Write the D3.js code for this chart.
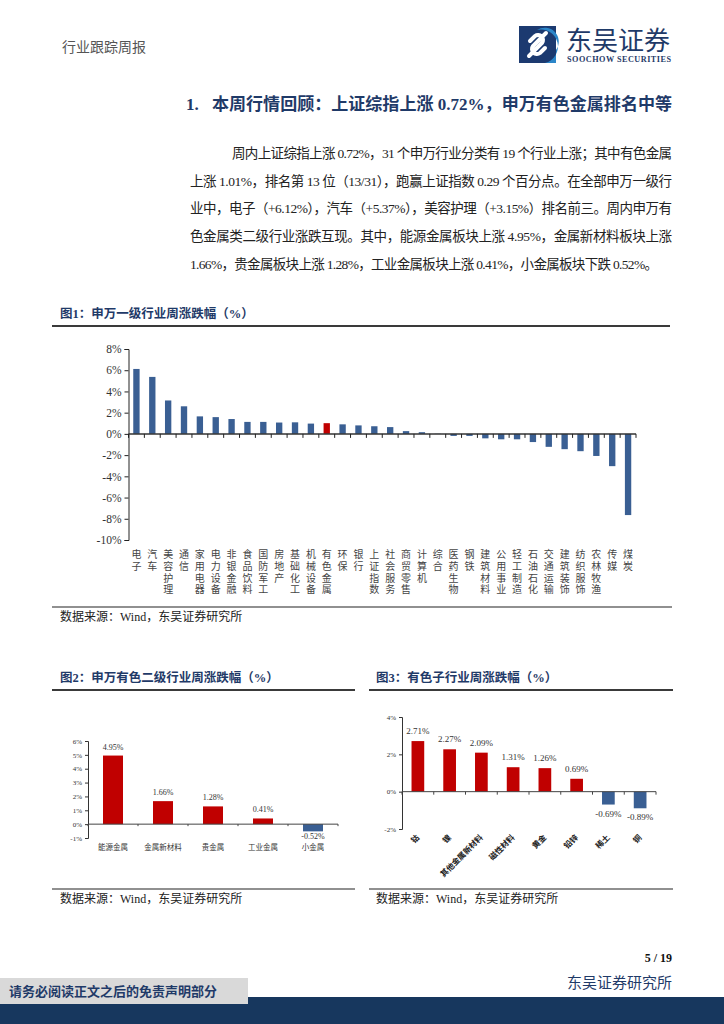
<!DOCTYPE html>
<html>
<head>
<meta charset="utf-8">
<script src="https://cdn.jsdelivr.net/npm/d3@7"></script>
<style>
  body { margin: 0; background: #fff; }
  svg { display: block; }
  text { font-family: "Liberation Serif", "Noto Sans CJK SC", serif; }
</style>
</head>
<body>
<div id="page"></div>
<script>
// chart 1: SW level-1 industries, weekly change (%)
var industries = ["电子","汽车","美容护理","通信","家用电器","电力设备","非银金融","食品饮料","国防军工","房地产",
  "基础化工","机械设备","有色金属","环保","银行","上证指数","社会服务","商贸零售","计算机","综合",
  "医药生物","钢铁","建筑材料","公用事业","轻工制造","石油石化","交通运输","建筑装饰","纺织服饰","农林牧渔","传媒","煤炭"];
var industryChange = [6.12,5.37,3.15,2.6,1.65,1.58,1.4,1.13,1.13,1.07,
  1.09,0.97,1.01,0.9,0.8,0.72,0.64,0.26,0.16,0.02,
  -0.19,-0.19,-0.42,-0.51,-0.51,-0.77,-1.22,-1.44,-1.63,-2.08,-3.04,-7.65];
var highlight1 = "有色金属";
var ticks1 = [-10,-8,-6,-4,-2,0,2,4,6,8];

// chart 2: non-ferrous level-2
var subSectors = ["能源金属","金属新材料","贵金属","工业金属","小金属"];
var subChange = [4.95,1.66,1.28,0.41,-0.52];
var ticks2 = [-1,0,1,2,3,4,5,6];

// chart 3: non-ferrous sub-industries
var subIndustries = ["钴","镍","其他金属新材料","磁性材料","黄金","铅锌","稀土","铜"];
var subIndChange = [2.71,2.27,2.09,1.31,1.26,0.69,-0.69,-0.89];
var ticks3 = [-2,0,2,4];

var paraLines = [
  "周内上证综指上涨 0.72%，31 个申万行业分类有 19 个行业上涨；其中有色金属",
  "上涨 1.01%，排名第 13 位（13/31），跑赢上证指数 0.29 个百分点。在全部申万一级行",
  "业中，电子（+6.12%），汽车（+5.37%），美容护理（+3.15%）排名前三。周内申万有",
  "色金属类二级行业涨跌互现。其中，能源金属板块上涨 4.95%，金属新材料板块上涨",
  "1.66%，贵金属板块上涨 1.28%，工业金属板块上涨 0.41%，小金属板块下跌 0.52%。"
];

var navy = "#1F3A68", blue = "#3A5F93", red = "#C00000", ink = "#222";

var svg = d3.select("#page").append("svg").attr("width", 724).attr("height", 1024);

// ---------- header ----------
svg.append("text").attr("x", 62).attr("y", 52).attr("font-size", 14).attr("fill", "#555").text("行业跟踪周报");

var logo = svg.append("g");
logo.append("rect").attr("x", 519).attr("y", 26).attr("width", 37).attr("height", 37).attr("fill", "#1C3A70");
logo.append("path").attr("d", "M537,30 A14,14 0 0 1 556,50 L556,63 L545,63 A14,14 0 0 0 537,30 Z").attr("fill", "#2B86C9");
logo.append("path").attr("d", "M546,33 L533,46 A5,5 0 0 0 540,53 L545,48 M529,56 L542,43 A5,5 0 0 0 535,36 L530,41")
  .attr("fill", "none").attr("stroke", "#fff").attr("stroke-width", 4).attr("stroke-linecap", "round");
logo.append("text").attr("x", 566).attr("y", 50).attr("font-size", 26).attr("fill", navy)
  .attr("font-family", "Noto Sans CJK SC").text("东吴证券");
logo.append("text").attr("x", 567).attr("y", 62).attr("font-size", 8.2).attr("font-weight", "bold").attr("fill", navy)
  .attr("font-family", "DejaVu Sans Condensed, Liberation Sans Narrow, sans-serif").attr("textLength", 104).text("SOOCHOW SECURITIES");

// ---------- section title & paragraph ----------
svg.append("text").attr("x", 186).attr("y", 110).attr("font-size", 17).attr("font-weight", "bold").attr("fill", navy).text("1.");
svg.append("text").attr("x", 212).attr("y", 110).attr("font-size", 17).attr("font-weight", "bold").attr("fill", navy)
  .attr("textLength", 460).attr("lengthAdjust", "spacingAndGlyphs")
  .text("本周行情回顾：上证综指上涨 0.72%，申万有色金属排名中等");

var paraY = [158, 186, 213, 241, 269];
svg.selectAll("text.para").data(paraLines).enter().append("text").attr("class", "para")
  .attr("x", function(d, i) { return i === 0 ? 232 : 190; })
  .attr("y", function(d, i) { return paraY[i]; })
  .attr("font-size", 13.5).attr("fill", ink)
  .attr("textLength", function(d, i) { return i === 0 ? 440 : (i === 4 ? 468 : 482); })
  .attr("lengthAdjust", "spacing")
  .text(function(d) { return d; });

// helper for figure headers
function figTitle(x, y, x1, x2, label) {
  svg.append("text").attr("x", x).attr("y", y).attr("font-size", 12.5).attr("font-weight", "bold").attr("fill", navy).text(label);
  svg.append("line").attr("x1", x1).attr("x2", x2).attr("y1", y + 8).attr("y2", y + 8).attr("stroke", "#3a3a3a").attr("stroke-width", 2);
}
function source(x, y, x1, x2) {
  svg.append("line").attr("x1", x1).attr("x2", x2).attr("y1", y - 12).attr("y2", y - 12).attr("stroke", "#222").attr("stroke-width", 1.2);
  svg.append("text").attr("x", x).attr("y", y + 2).attr("font-size", 12).attr("fill", ink).text("数据来源：Wind，东吴证券研究所");
}

// ---------- figure 1 ----------
figTitle(60, 318, 52, 670, "图1：申万一级行业周涨跌幅（%）");

var x1 = d3.scaleBand().domain(industries).range([128.5, 636]).paddingInner(0.6).paddingOuter(0.3);
var y1 = d3.scaleLinear().domain([-10, 8]).range([540, 349]);

svg.append("g").attr("transform", "translate(128.5,0)")
  .call(d3.axisLeft(y1).tickValues(ticks1).tickSize(4).tickFormat(function(d) { return d + "%"; }))
  .call(function(g) {
    g.selectAll("text").attr("font-size", 11.5).attr("fill", "#333").attr("font-family", "Liberation Serif");
    g.selectAll("line,path").attr("stroke", "#222");
  });

svg.selectAll("rect.b1").data(industries).enter().append("rect").attr("class", "b1")
  .attr("x", function(d) { return x1(d); })
  .attr("width", x1.bandwidth())
  .attr("y", function(d, i) { return y1(Math.max(0, industryChange[i])); })
  .attr("height", function(d, i) { return Math.abs(y1(industryChange[i]) - y1(0)); })
  .attr("fill", function(d) { return d === highlight1 ? red : blue; });

svg.append("line").attr("x1", 128.5).attr("x2", 636).attr("y1", y1(0)).attr("y2", y1(0)).attr("stroke", "#333").attr("stroke-width", 1.5);
svg.selectAll("line.t1").data(d3.range(industries.length + 1)).enter().append("line").attr("class", "t1")
  .attr("x1", function(k) { return 128.5 + k * x1.step(); })
  .attr("x2", function(k) { return 128.5 + k * x1.step(); })
  .attr("y1", y1(0)).attr("y2", y1(0) + 4).attr("stroke", "#222");

svg.selectAll("text.c1").data(industries).enter().append("text").attr("class", "c1")
  .attr("font-size", 10).attr("fill", "#444").attr("text-anchor", "middle")
  .attr("font-family", "Noto Sans CJK SC")
  .each(function(d) {
    var t = d3.select(this), cx = x1(d) + x1.bandwidth() / 2;
    d.split("").forEach(function(ch, j) {
      t.append("tspan").attr("x", cx).attr("y", 558 + j * 11.8).text(ch);
    });
  });

source(60, 619, 52, 672);

// ---------- figure 2 ----------
figTitle(60, 682, 52, 355, "图2：申万有色二级行业周涨跌幅（%）");

var x2 = d3.scaleBand().domain(subSectors).range([88, 338]).paddingInner(0.6).paddingOuter(0.3);
var y2 = d3.scaleLinear().domain([-1, 6]).range([838, 741]);

svg.append("g").attr("transform", "translate(88,0)")
  .call(d3.axisLeft(y2).tickValues(ticks2).tickSize(3).tickPadding(3).tickFormat(function(d) { return d + "%"; }))
  .call(function(g) {
    g.selectAll("text").attr("font-size", 7).attr("fill", "#333");
    g.selectAll("line,path").attr("stroke", "#333");
  });

svg.selectAll("rect.b2").data(subSectors).enter().append("rect").attr("class", "b2")
  .attr("x", function(d) { return x2(d); }).attr("width", x2.bandwidth())
  .attr("y", function(d, i) { return y2(Math.max(0, subChange[i])); })
  .attr("height", function(d, i) { return Math.abs(y2(subChange[i]) - y2(0)); })
  .attr("fill", function(d, i) { return subChange[i] >= 0 ? red : blue; });

svg.append("line").attr("x1", 88).attr("x2", 338).attr("y1", y2(0)).attr("y2", y2(0)).attr("stroke", "#444").attr("stroke-width", 1);
svg.selectAll("line.t2").data(d3.range(subSectors.length + 1)).enter().append("line").attr("class", "t2")
  .attr("x1", function(k) { return 88 + k * x2.step(); }).attr("x2", function(k) { return 88 + k * x2.step(); })
  .attr("y1", y2(0)).attr("y2", y2(0) + 2).attr("stroke", "#444");

svg.selectAll("text.v2").data(subSectors).enter().append("text").attr("class", "v2")
  .attr("x", function(d) { return x2(d) + x2.bandwidth() / 2; })
  .attr("y", function(d, i) { return subChange[i] >= 0 ? y2(subChange[i]) - 6 : y2(subChange[i]) + 8; })
  .attr("font-size", 8).attr("fill", "#333").attr("text-anchor", "middle")
  .text(function(d, i) { return subChange[i].toFixed(2) + "%"; });

svg.selectAll("text.c2").data(subSectors).enter().append("text").attr("class", "c2")
  .attr("x", function(d) { return x2(d) + x2.bandwidth() / 2; }).attr("y", 850)
  .attr("font-size", 7.5).attr("fill", "#333").attr("text-anchor", "middle").attr("font-family", "Noto Sans CJK SC")
  .text(function(d) { return d; });

source(60, 901, 52, 355);

// ---------- figure 3 ----------
figTitle(376, 682, 369, 673, "图3：有色子行业周涨跌幅（%）");

var x3 = d3.scaleBand().domain(subIndustries).range([402, 656]).paddingInner(0.6).paddingOuter(0.3);
var y3 = d3.scaleLinear().domain([-2, 4]).range([829, 717]);

svg.append("g").attr("transform", "translate(402,0)")
  .call(d3.axisLeft(y3).tickValues(ticks3).tickSize(3).tickPadding(3).tickFormat(function(d) { return d + "%"; }))
  .call(function(g) {
    g.selectAll("text").attr("font-size", 7).attr("fill", "#333");
    g.selectAll("line,path").attr("stroke", "#333");
  });

svg.selectAll("rect.b3").data(subIndustries).enter().append("rect").attr("class", "b3")
  .attr("x", function(d) { return x3(d); }).attr("width", x3.bandwidth())
  .attr("y", function(d, i) { return y3(Math.max(0, subIndChange[i])); })
  .attr("height", function(d, i) { return Math.abs(y3(subIndChange[i]) - y3(0)); })
  .attr("fill", function(d, i) { return subIndChange[i] >= 0 ? red : blue; });

svg.append("line").attr("x1", 402).attr("x2", 656).attr("y1", y3(0)).attr("y2", y3(0)).attr("stroke", "#444").attr("stroke-width", 1);
svg.selectAll("line.t3").data(d3.range(subIndustries.length + 1)).enter().append("line").attr("class", "t3")
  .attr("x1", function(k) { return 402 + k * x3.step(); }).attr("x2", function(k) { return 402 + k * x3.step(); })
  .attr("y1", y3(0)).attr("y2", y3(0) + 3).attr("stroke", "#444");

svg.selectAll("text.v3").data(subIndustries).enter().append("text").attr("class", "v3")
  .attr("x", function(d) { return x3(d) + x3.bandwidth() / 2; })
  .attr("y", function(d, i) { return subIndChange[i] >= 0 ? y3(subIndChange[i]) - 7 : y3(subIndChange[i]) + 12; })
  .attr("font-size", 9).attr("fill", "#333").attr("text-anchor", "middle")
  .text(function(d, i) { return subIndChange[i].toFixed(2) + "%"; });

svg.selectAll("text.c3").data(subIndustries).enter().append("text").attr("class", "c3")
  .attr("transform", function(d) { return "translate(" + (x3(d) + x3.bandwidth() / 2 + 2) + ",838) rotate(-45)"; })
  .attr("font-size", 8).attr("font-weight", "bold").attr("fill", "#222").attr("text-anchor", "end")
  .attr("font-family", "Noto Sans CJK SC")
  .text(function(d) { return d; });

source(376, 901, 369, 673);

// ---------- footer ----------
svg.append("text").attr("x", 672).attr("y", 962).attr("text-anchor", "end").attr("font-size", 12).attr("font-weight", "bold").attr("fill", "#111").text("5 / 19");
svg.append("text").attr("x", 672).attr("y", 988).attr("text-anchor", "end").attr("font-size", 15).attr("fill", navy)
  .attr("font-family", "Noto Sans CJK SC").text("东吴证券研究所");
svg.append("rect").attr("x", 0).attr("y", 997).attr("width", 724).attr("height", 27).attr("fill", "#17375E");
svg.append("rect").attr("x", 0).attr("y", 978).attr("width", 248).attr("height", 26).attr("fill", "#D9D9D9");
svg.append("text").attr("x", 9).attr("y", 996).attr("font-size", 13).attr("font-weight", "bold").attr("fill", navy)
  .attr("font-family", "Noto Sans CJK SC").text("请务必阅读正文之后的免责声明部分");
</script>
</body>
</html>
